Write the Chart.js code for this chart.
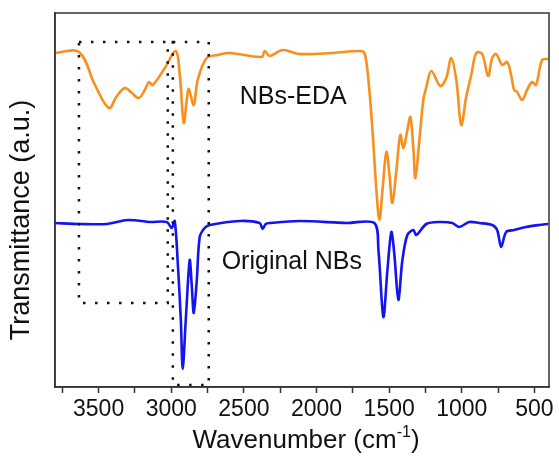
<!DOCTYPE html>
<html><head><meta charset="utf-8">
<script src="https://cdn.jsdelivr.net/npm/chart.js@4.4.1/dist/chart.umd.min.js"></script>
<style>html,body{margin:0;padding:0;background:#fff}#w{width:559px;height:464px}</style>
</head><body><div id="w"><canvas id="c" width="559" height="464"></canvas></div>
<script>
// Wavenumber (cm-1) and relative transmittance (arbitrary units)
const edaWavenumber = [3800,3635,3525,3429,3374,3319,3271,3223,3182,3154,3127,3044,2969,2941,2914,2893,2879,2845,2818,2756,2680,2598,2378,2357,2323,2234,2117,1890,1705,1670,1643,1615,1588,1567,1546,1519,1498,1478,1450,1423,1402,1375,1354,1333,1320,1292,1265,1244,1210,1148,1107,1073,1038,1004,970,935,901,860,819,791,764,722,688,661,640,619,585,551,516,489,448,406];
const edaValue =      [334,335,302,279,291,299,294,289,297,305,302,319,336,312,264,287,298,282,307,329,332,334,330,336,331,337,333,334,336,334,307,257,197,167,197,235,212,184,217,252,239,257,270,237,209,247,287,300,316,301,309,329,307,262,290,312,334,333,311,329,333,322,325,312,297,295,287,297,305,302,327,328];
const origWavenumber = [3800,3628,3443,3299,3147,3031,2996,2976,2955,2934,2921,2900,2873,2859,2845,2824,2804,2770,2735,2529,2392,2371,2350,2323,2117,1794,1602,1574,1540,1512,1485,1464,1437,1409,1375,1334,1313,1244,1155,1066,1018,949,880,791,757,729,695,640,558,468,406];
const origValue =      [164,163,163,167,165,165,159,166,124,67,18,67,127,102,74,107,150,159,162,166,164,158,163,164,166,164,164,137,70,117,155,132,87,127,152,157,152,163,165,164,160,165,164,162,157,140,155,157,160,162,163];
const seriesNames = ["NBs-EDA","Original NBs"];
const tickValues = [3750,3500,3250,3000,2750,2500,2250,2000,1750,1500,1250,1000,750,500];
const tickLabels = ["3500","3000","2500","2000","1500","1000","500"];
// dotted boxes: [wnLeft, wnRight, yTop, yBottom]
const boxA = [3635,3024,345,84];
const boxB = [2989,2742,345,2];
const labelA = {text:"NBs-EDA", x:2529, y:290};
const labelB = {text:"Original NBs", x:2653, y:125};

const toPts = (xs,ys)=>xs.map((x,i)=>({x:x,y:ys[i]}));
const FONT = "'Liberation Sans', Arial, sans-serif";

const overlay = {
  id:'overlay',
  afterDatasetsDraw(chart){
    const {ctx, chartArea:a, scales:{x,y}} = chart;
    ctx.save();
    // dotted boxes
    ctx.strokeStyle='#111'; ctx.lineWidth=2.5; ctx.setLineDash([2.5,9.5]);
    [boxA,boxB].forEach(b=>{
      const x1=x.getPixelForValue(b[0]), x2=x.getPixelForValue(b[1]);
      const y1=y.getPixelForValue(b[2]), y2=y.getPixelForValue(b[3]);
      ctx.strokeRect(x1,y1,x2-x1,y2-y1);
    });
    ctx.setLineDash([]);
    // labels
    ctx.fillStyle='#111'; ctx.font='25px '+FONT; ctx.textBaseline='middle'; ctx.textAlign='left';
    [labelA,labelB].forEach(l=>ctx.fillText(l.text, x.getPixelForValue(l.x), y.getPixelForValue(l.y)));
    // frame
    ctx.strokeStyle='#333'; ctx.lineWidth=1.5;
    ctx.strokeRect(a.left,a.top,a.right-a.left,a.bottom-a.top);
    // x title with superscript
    ctx.fillStyle='#111'; ctx.textBaseline='alphabetic';
    const big='26px '+FONT, small='16px '+FONT;
    const p1='Wavenumber (cm', p2='-1', p3=')';
    ctx.font=big; const w1=ctx.measureText(p1).width, w3=ctx.measureText(p3).width;
    ctx.font=small; const w2=ctx.measureText(p2).width;
    const tw=w1+w2+w3; let sx=(a.left+a.right)/2 - tw/2 + 4; const by=448;
    ctx.font=big; ctx.fillText(p1,sx,by); sx+=w1;
    ctx.font=small; ctx.fillText(p2,sx,by-11); sx+=w2;
    ctx.font=big; ctx.fillText(p3,sx,by);
    // y title
    ctx.translate(22,220); ctx.rotate(-Math.PI/2);
    ctx.font='27px '+FONT; ctx.textAlign='center'; ctx.textBaseline='middle';
    ctx.fillText('Transmittance (a.u.)',0,0);
    ctx.restore();
  }
};

new Chart(document.getElementById('c'), {
  type:'line',
  data:{datasets:[
    {label:seriesNames[0], data:toPts(edaWavenumber,edaValue), borderColor:'#F7901E', borderWidth:2.6, pointRadius:0, tension:0.35, fill:false},
    {label:seriesNames[1], data:toPts(origWavenumber,origValue), borderColor:'#1414EE', borderWidth:2.6, pointRadius:0, tension:0.3, fill:false}
  ]},
  options:{
    responsive:false, animation:false,
    layout:{padding:{top:13,right:10,left:0,bottom:0}},
    plugins:{legend:{display:false},tooltip:{enabled:false}},
    scales:{
      x:{type:'linear', reverse:true, min:400, max:3800,
        afterBuildTicks(s){ s.ticks = tickValues.map(v=>({value:v})); },
        afterFit(s){ s.height=77; },
        ticks:{autoSkip:false, maxRotation:0, color:'#111', font:{family:FONT,size:23}, padding:3,
          callback(v){ const t=String(v); return tickLabels.includes(t)?t:''; }},
        grid:{drawOnChartArea:false, tickLength:6, tickColor:'#333', tickWidth:1.5},
        border:{display:true, color:'#333', width:1.5}
      },
      y:{type:'linear', min:0, max:374,
        afterFit(s){ s.width=55; },
        ticks:{display:false},
        grid:{display:false},
        border:{display:true, color:'#333', width:1.5}
      }
    }
  },
  plugins:[overlay]
});
</script></body></html>
